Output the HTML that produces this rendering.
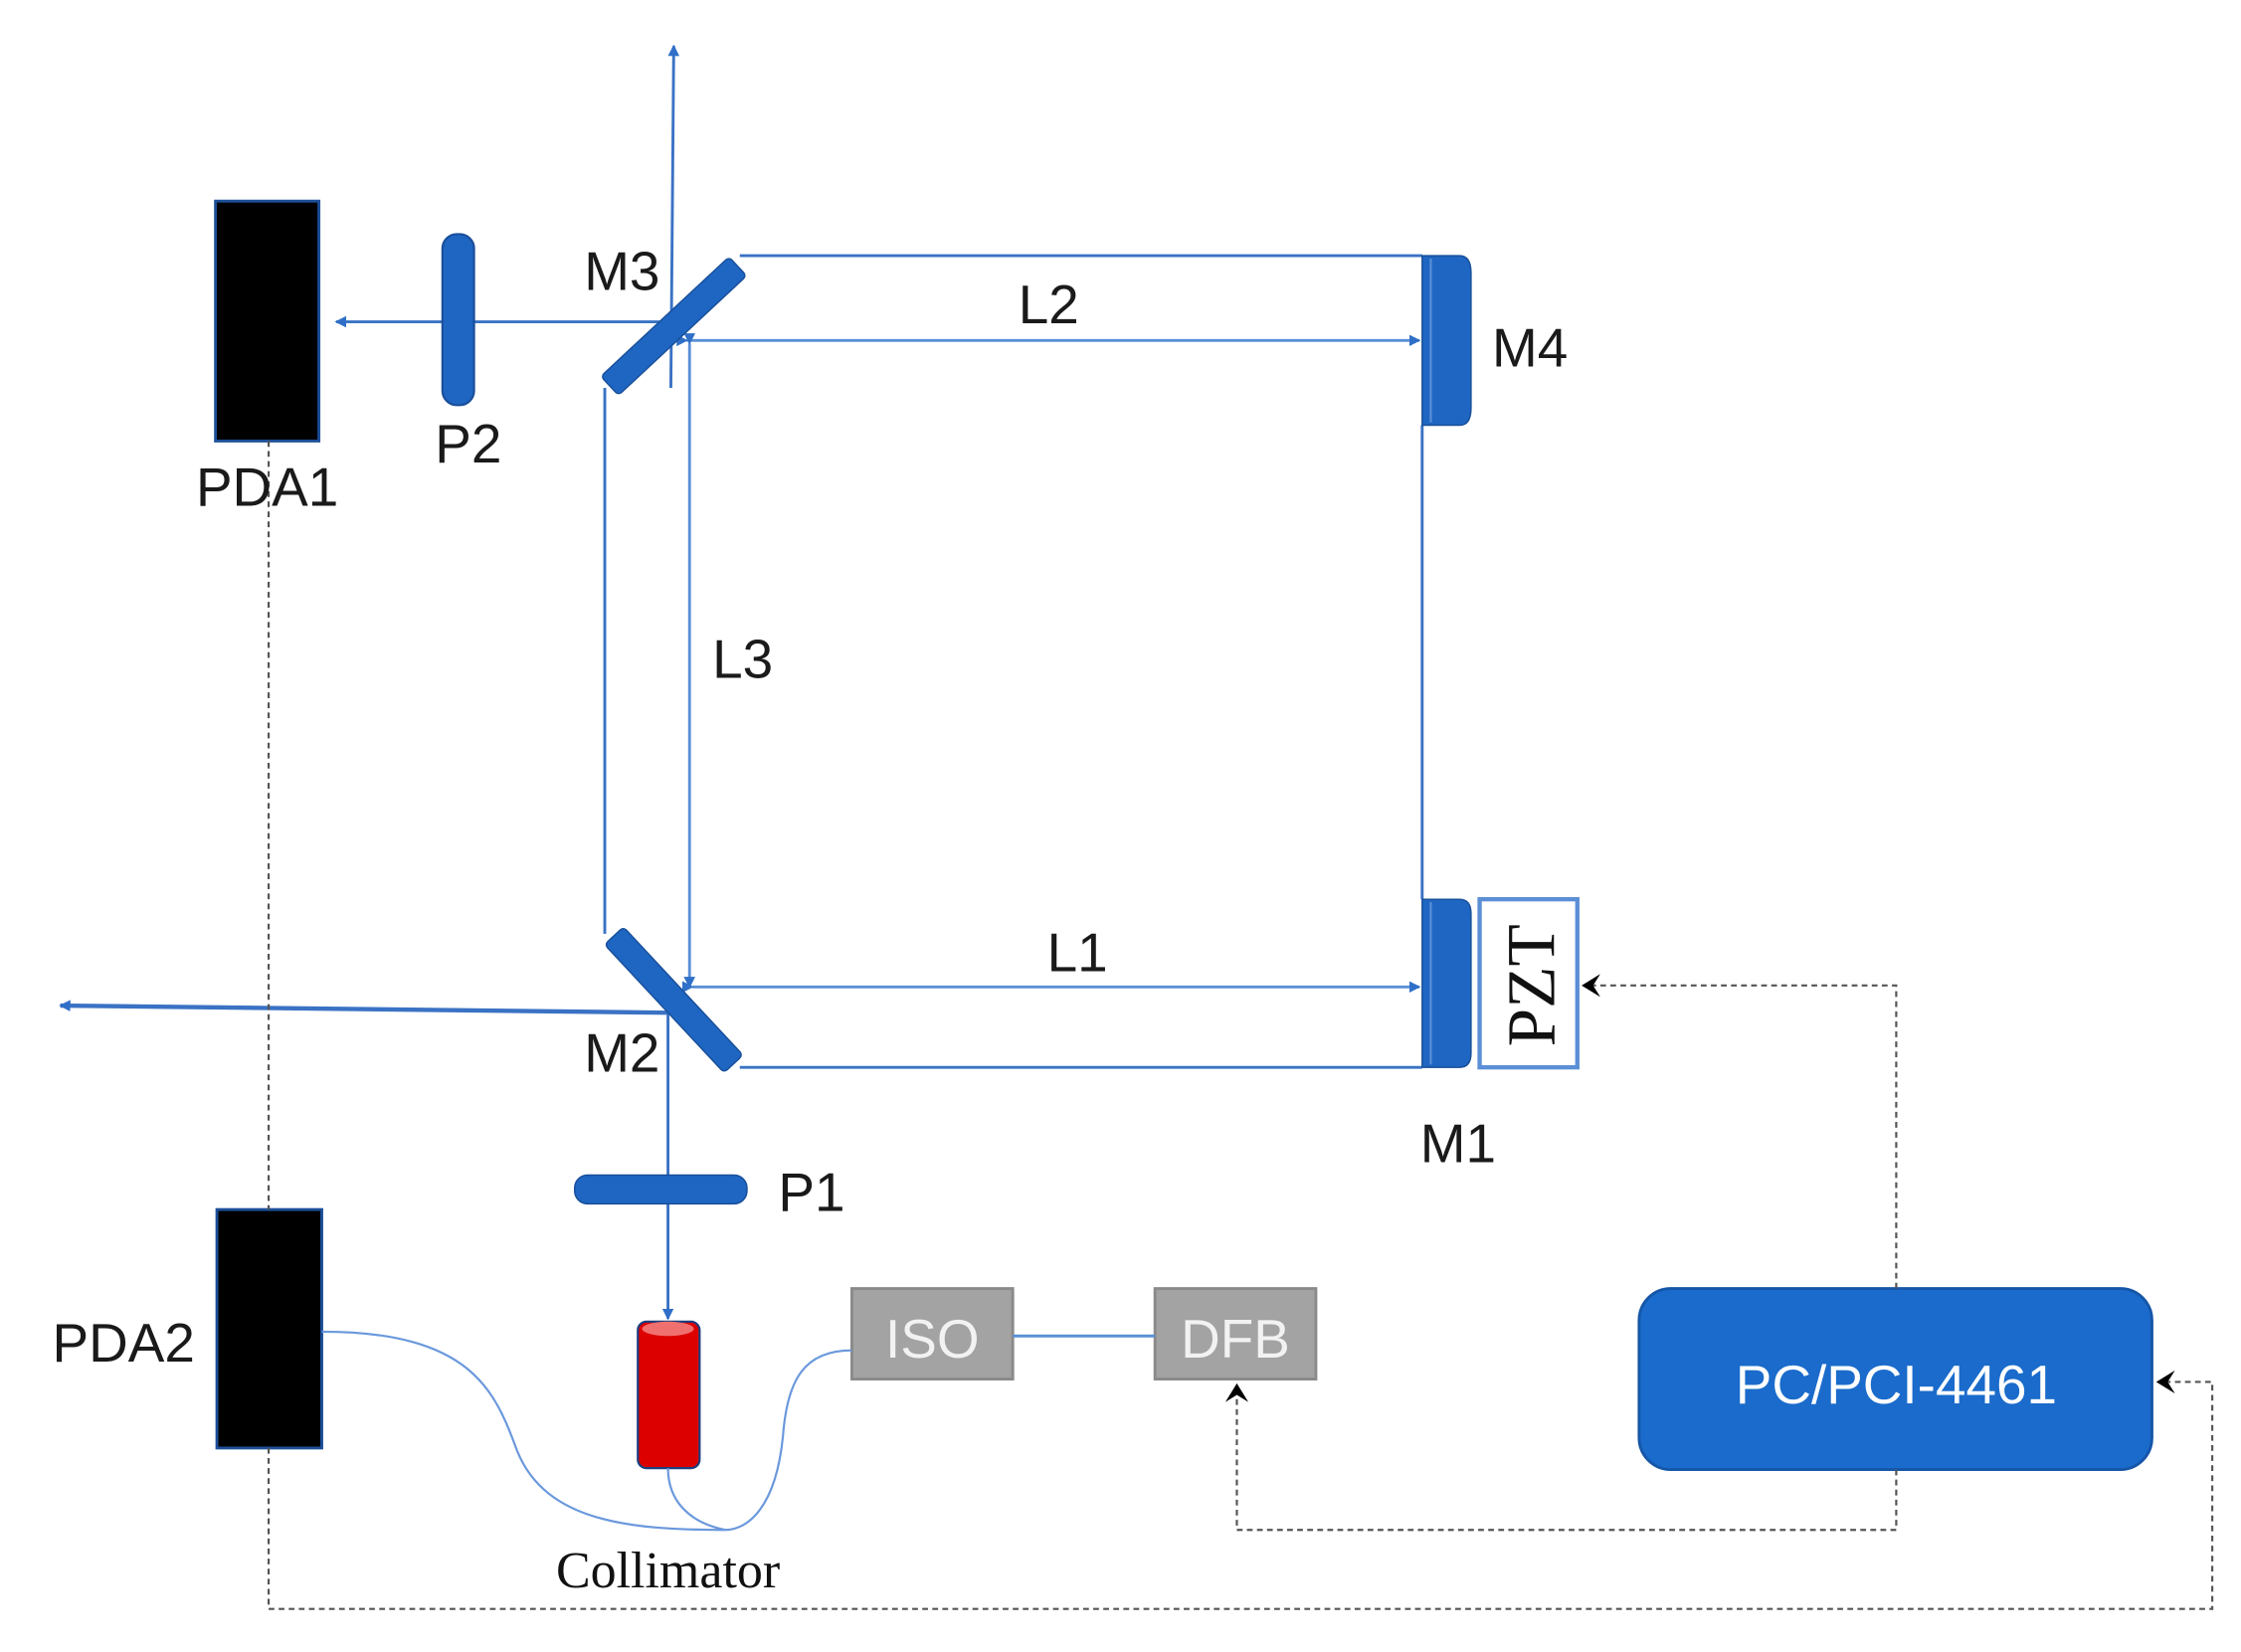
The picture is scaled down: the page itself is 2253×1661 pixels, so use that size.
<!DOCTYPE html>
<html><head><meta charset="utf-8"><style>
html,body{margin:0;padding:0;background:#fff;}
svg{display:block;}
.s{font-family:"Liberation Sans Narrow","Liberation Sans",sans-serif;fill:#1a1a1a;}
.r{font-family:"Liberation Serif",serif;fill:#111;}
</style></head><body>
<svg width="2253" height="1661" viewBox="0 0 1560 1150" preserveAspectRatio="none" xmlns="http://www.w3.org/2000/svg">
<defs>
<marker id="ab" markerWidth="8" markerHeight="8" refX="7" refY="4" orient="auto" markerUnits="userSpaceOnUse"><path d="M0,0 L8,4 L0,8 z" fill="#2f6fc8"/></marker>
<marker id="ak" markerWidth="14" markerHeight="16" refX="12" refY="8" orient="auto" markerUnits="userSpaceOnUse"><path d="M0,0 L13,8 L0,16 L5,8 z" fill="#000"/></marker>
</defs>
<rect width="1560" height="1150" fill="#fff"/>
<g stroke="#3a72c4" stroke-width="2" fill="none">
<line x1="467" y1="270" x2="469" y2="32" marker-end="url(#ab)"/>
<line x1="465" y1="224" x2="234" y2="224" marker-end="url(#ab)"/>
<line x1="515" y1="178" x2="990" y2="178"/>
<line x1="515" y1="743" x2="990" y2="743"/>
<line x1="990" y1="296" x2="990" y2="626"/>
<line x1="421" y1="270" x2="421" y2="650"/>
<line x1="465" y1="705" x2="42" y2="700" stroke-width="3" marker-end="url(#ab)"/>
<line x1="465" y1="705" x2="465" y2="918" marker-end="url(#ab)"/>
</g>
<g stroke="#5b8fd6" stroke-width="2" fill="none">
<line x1="478" y1="237" x2="988" y2="237" marker-start="url(#ab)" marker-end="url(#ab)"/>
<line x1="482" y1="687" x2="988" y2="687" marker-start="url(#ab)" marker-end="url(#ab)"/>
<line x1="480" y1="239" x2="480" y2="687" marker-start="url(#ab)" marker-end="url(#ab)"/>
</g>
<rect x="150" y="140" width="72" height="167" fill="#000" stroke="#1d4f9a" stroke-width="2"/>
<rect x="308" y="163" width="22" height="119" rx="10" fill="#1f66c2" stroke="#1a4f9a" stroke-width="1.5"/>
<rect x="408" y="218" width="122" height="18" rx="3" fill="#1f66c2" stroke="#184f9a" transform="rotate(-43 469 227)"/>
<rect x="408" y="687" width="122" height="18" rx="3" fill="#1f66c2" stroke="#184f9a" transform="rotate(47 469 696)"/>
<path d="M990 178 H1016 Q1024 178 1024 190 V284 Q1024 296 1016 296 H990 Z" fill="#1f66c2" stroke="#184f9a"/>
<line x1="996" y1="180" x2="996" y2="294" stroke="#5b8fd6" stroke-width="1.5"/>
<path d="M990 626 H1016 Q1024 626 1024 636 V733 Q1024 743 1016 743 H990 Z" fill="#1f66c2" stroke="#184f9a"/>
<line x1="996" y1="628" x2="996" y2="741" stroke="#5b8fd6" stroke-width="1.5"/>
<rect x="1030" y="626" width="68" height="117" fill="#fff" stroke="#5b8fd6" stroke-width="3"/>
<text class="r" x="0" y="0" font-size="48" text-anchor="middle" transform="translate(1082 686) rotate(-90)">PZT</text>
<rect x="400" y="818" width="120" height="20" rx="9" fill="#1f66c2" stroke="#184f9a"/>
<rect x="444" y="920" width="43" height="102" rx="6" fill="#dd0000" stroke="#1a3f80" stroke-width="1.5"/>
<ellipse cx="465" cy="925" rx="18" ry="5" fill="#f07070"/>
<rect x="151" y="842" width="73" height="166" fill="#000" stroke="#1d4f9a" stroke-width="2"/>
<rect x="593" y="897" width="112" height="63" fill="#a3a3a3" stroke="#8a8a8a" stroke-width="2"/>
<rect x="804" y="897" width="112" height="63" fill="#a3a3a3" stroke="#8a8a8a" stroke-width="2"/>
<line x1="705" y1="930" x2="804" y2="930" stroke="#5b8fd6" stroke-width="2"/>
<text class="s" x="649" y="945" font-size="38" style="fill:#f2f2f2" text-anchor="middle">ISO</text>
<text class="s" x="860" y="945" font-size="38" style="fill:#f2f2f2" text-anchor="middle">DFB</text>
<rect x="1141" y="897" width="357" height="126" rx="22" fill="#1a6bcb" stroke="#1656a8" stroke-width="2"/>
<text class="s" x="1320" y="977" font-size="38" style="fill:#fff" text-anchor="middle">PC/PCI-4461</text>
<g stroke="#6a98dc" stroke-width="1.5" fill="none">
<path d="M224 927 C330 927 345 970 360 1010 C380 1060 440 1065 505 1065"/>
<path d="M465 1022 C465 1045 480 1060 505 1065"/>
<path d="M593 940 C560 940 548 960 545 1000 C540 1050 520 1065 505 1065"/>
</g>
<g stroke="#555" stroke-width="1.5" fill="none" stroke-dasharray="4 3">
<line x1="187" y1="307" x2="187" y2="842"/>
<polyline points="187,1008 187,1120 1540,1120 1540,962 1502,962" marker-end="url(#ak)"/>
<polyline points="1320,897 1320,686 1102,686" marker-end="url(#ak)"/>
<polyline points="1320,1023 1320,1065 861,1065 861,964" marker-end="url(#ak)"/>
</g>
<g class="s" font-size="38">
<text x="433" y="202" text-anchor="middle">M3</text>
<text x="730" y="225" text-anchor="middle">L2</text>
<text x="1065" y="255" text-anchor="middle">M4</text>
<text x="326" y="322" text-anchor="middle">P2</text>
<text x="186" y="352" text-anchor="middle">PDA1</text>
<text x="517" y="472" text-anchor="middle">L3</text>
<text x="750" y="676" text-anchor="middle">L1</text>
<text x="433" y="746" text-anchor="middle">M2</text>
<text x="1015" y="809" text-anchor="middle">M1</text>
<text x="565" y="843" text-anchor="middle">P1</text>
<text x="86" y="948" text-anchor="middle">PDA2</text>
</g>
<text class="r" x="465" y="1105" font-size="36" text-anchor="middle">Collimator</text>
</svg>
</body></html>
